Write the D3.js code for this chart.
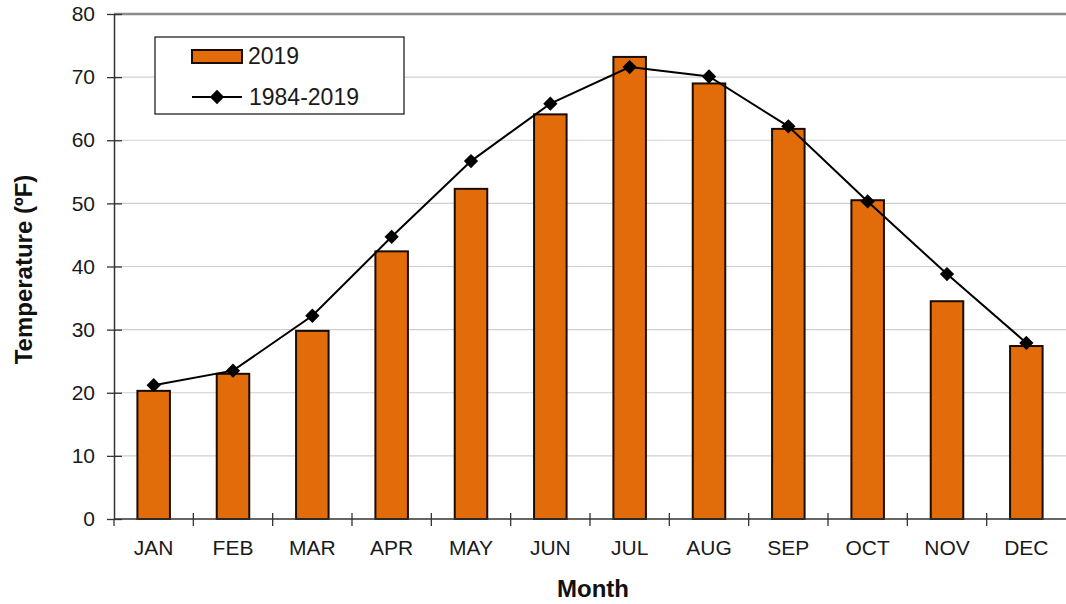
<!DOCTYPE html>
<html>
<head>
<meta charset="utf-8">
<script src="https://cdn.jsdelivr.net/npm/d3@7"></script>
<style>
  html, body { margin: 0; padding: 0; background: #fff; }
  svg { display: block; font-family: Arial, "Liberation Sans", sans-serif; }
</style>
</head>
<body>
<svg id="chart" width="1066" height="604"></svg>
<script>
const months = ["JAN","FEB","MAR","APR","MAY","JUN","JUL","AUG","SEP","OCT","NOV","DEC"];
const temps2019 = [20.3, 23.0, 29.8, 42.4, 52.3, 64.1, 73.2, 69.0, 61.8, 50.5, 34.5, 27.4];
const tempsAvg = [21.2, 23.5, 32.2, 44.7, 56.7, 65.8, 71.6, 70.1, 62.2, 50.3, 38.8, 27.9];
const yTicks = [0, 10, 20, 30, 40, 50, 60, 70, 80];
const seriesNames = ["2019", "1984-2019"];
const yTitle = "Temperature (ºF)";
const xTitle = "Month";

(function () {
const svg = d3.select("#chart");
const pL = 114, pR = 1066, pT = 14, pB = 519;

const x = d3.scaleBand().domain(months).range([pL, pR]).padding(0);
const y = d3.scaleLinear().domain([0, 80]).range([pB, pT]);

// gridlines
svg.append("g").selectAll("line").data(yTicks.filter(d => d > 0 && d < 80)).join("line")
  .attr("x1", pL).attr("x2", pR)
  .attr("y1", d => y(d)).attr("y2", d => y(d))
  .attr("stroke", "#cfcfcf").attr("stroke-width", 1.2);

// top border line at 80
svg.append("line")
  .attr("x1", pL).attr("x2", pR)
  .attr("y1", y(80)).attr("y2", y(80))
  .attr("stroke", "#8a8a8a").attr("stroke-width", 2.5);

// bars
const bw = x.bandwidth() * 0.41;
svg.append("g").selectAll("rect").data(months).join("rect")
  .attr("x", d => x(d) + (x.bandwidth() - bw) / 2)
  .attr("width", bw)
  .attr("y", (d, i) => y(temps2019[i]))
  .attr("height", (d, i) => y(0) - y(temps2019[i]))
  .attr("fill", "#E36C0A")
  .attr("stroke", "#1a0c02")
  .attr("stroke-width", 2);

// line
const line = d3.line()
  .x((d, i) => x(months[i]) + x.bandwidth() / 2)
  .y(d => y(d));
svg.append("path").datum(tempsAvg)
  .attr("d", line)
  .attr("fill", "none")
  .attr("stroke", "#000")
  .attr("stroke-width", 2);

const diamond = d3.symbol().type(d3.symbolDiamond2).size(130);
svg.append("g").selectAll("path").data(tempsAvg).join("path")
  .attr("d", diamond)
  .attr("transform", (d, i) => `translate(${x(months[i]) + x.bandwidth() / 2},${y(d)})`)
  .attr("fill", "#000");

// y axis
const yAxis = d3.axisLeft(y).tickValues(yTicks).tickSize(7).tickPadding(12).tickSizeOuter(0);
const gy = svg.append("g").attr("transform", `translate(${pL},0)`).call(yAxis);
gy.select(".domain").attr("stroke", "#333").attr("stroke-width", 1.5);
gy.selectAll(".tick line").attr("stroke", "#333").attr("stroke-width", 1.3).attr("x2", 8).attr("x1", -7);
gy.selectAll(".tick text").attr("font-size", 21).attr("fill", "#1a1a1a")
  .attr("font-family", "Arial, 'Liberation Sans', sans-serif").attr("x", -19);

// x axis
const gx = svg.append("g").attr("transform", `translate(0,${pB})`);
gx.append("line").attr("x1", pL).attr("x2", pR).attr("y1", 0).attr("y2", 0)
  .attr("stroke", "#333").attr("stroke-width", 1.5);
const boundaries = months.map(m => x(m));
gx.selectAll("line.tk").data(boundaries).join("line").attr("class", "tk")
  .attr("x1", d => d).attr("x2", d => d)
  .attr("y1", (d, i) => i === 0 ? 0 : -6).attr("y2", 7)
  .attr("stroke", "#333").attr("stroke-width", 1.3);
gx.selectAll("text").data(months).join("text")
  .attr("x", d => x(d) + x.bandwidth() / 2)
  .attr("y", 36)
  .attr("text-anchor", "middle")
  .attr("font-size", 21)
  .attr("fill", "#1a1a1a")
  .text(d => d);

// axis titles
svg.append("text")
  .attr("x", (pL + pR) / 2 + 3).attr("y", 597)
  .attr("text-anchor", "middle")
  .attr("font-size", 24).attr("font-weight", "bold").attr("fill", "#111")
  .text(xTitle);
svg.append("text")
  .attr("transform", `translate(32,${(pT + pB) / 2 + 3}) rotate(-90)`)
  .attr("text-anchor", "middle")
  .attr("font-size", 24).attr("font-weight", "bold").attr("fill", "#111")
  .text(yTitle);

// legend
const lg = svg.append("g");
lg.append("rect").attr("x", 155).attr("y", 37).attr("width", 249).attr("height", 77)
  .attr("fill", "#fff").attr("stroke", "#222").attr("stroke-width", 1.3);
lg.append("rect").attr("x", 192).attr("y", 50).attr("width", 50).attr("height", 13)
  .attr("fill", "#E36C0A").attr("stroke", "#1a0c02").attr("stroke-width", 2);
lg.append("text").attr("x", 248).attr("y", 64).attr("font-size", 23).attr("fill", "#1a1a1a").text(seriesNames[0]);
lg.append("line").attr("x1", 192).attr("x2", 242).attr("y1", 97).attr("y2", 97)
  .attr("stroke", "#000").attr("stroke-width", 2);
lg.append("path").attr("d", diamond).attr("transform", "translate(217,97)").attr("fill", "#000");
lg.append("text").attr("x", 249).attr("y", 105).attr("font-size", 23).attr("fill", "#1a1a1a").text(seriesNames[1]);
})();
</script>
</body>
</html>
